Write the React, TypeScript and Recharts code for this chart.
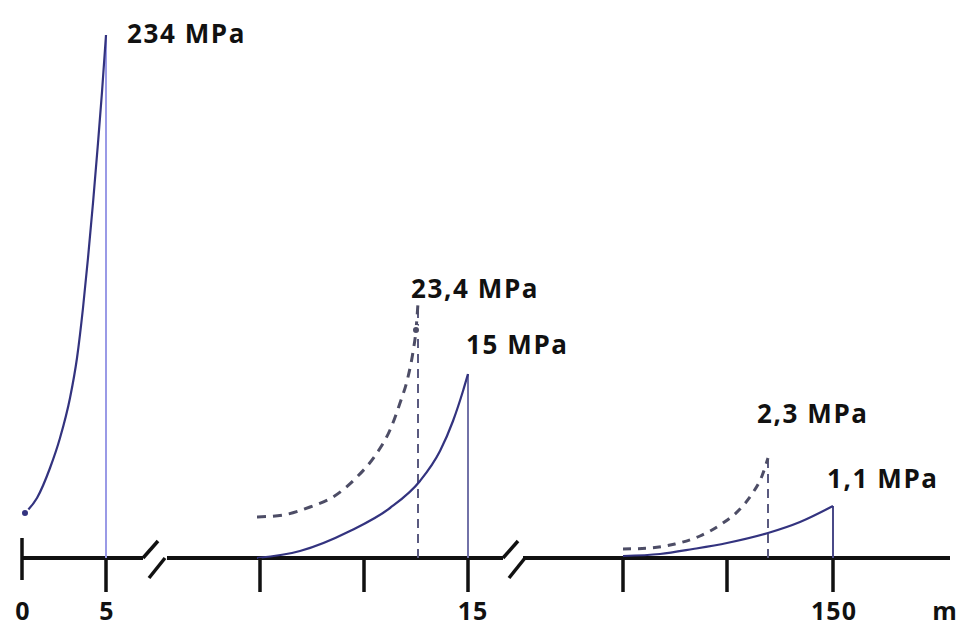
import React from 'react'
import {
  ComposedChart,
  Line,
  XAxis,
  YAxis,
  ReferenceLine,
  ReferenceDot,
} from 'recharts'

// ── Data (x = position along the broken axis, h = drawn height above axis) ──

const TICK_POS = [22, 106, 260, 364, 468, 623, 727, 833, 944]
const TICK_LABELS = ['0', '5', '', '', '15', '', '', '150', 'm']
const TICK_KINDS = ['cross', 'down', 'down', 'down', 'down', 'down', 'down', 'down', 'none']

const AXIS_RUNS = [
  [22, 143],
  [167, 503],
  [523, 950],
]
const AXIS_BREAKS = [143, 503]

const SEG1_SOLID = [
  { x: 25, h: 45 },
  { x: 37, h: 60 },
  { x: 50, h: 90 },
  { x: 60, h: 120 },
  { x: 70, h: 160 },
  { x: 77, h: 200 },
  { x: 83, h: 250 },
  { x: 88, h: 300 },
  { x: 93, h: 355 },
  { x: 98, h: 415 },
  { x: 102, h: 466 },
  { x: 106, h: 523 },
]

const SEG2_SOLID = [
  { x: 257, h: 0 },
  { x: 300, h: 7 },
  { x: 350, h: 27 },
  { x: 390, h: 50 },
  { x: 420, h: 77 },
  { x: 440, h: 107 },
  { x: 453, h: 137 },
  { x: 463, h: 167 },
  { x: 468, h: 184 },
]

const SEG2_DASHED = [
  { x: 257, h: 41 },
  { x: 283, h: 43 },
  { x: 310, h: 51 },
  { x: 333, h: 61 },
  { x: 357, h: 81 },
  { x: 377, h: 105 },
  { x: 390, h: 128 },
  { x: 400, h: 155 },
  { x: 408, h: 181 },
  { x: 413, h: 206 },
  { x: 416, h: 228 },
  { x: 418, h: 255 },
]

const SEG3_SOLID = [
  { x: 623, h: 2 },
  { x: 660, h: 4 },
  { x: 693, h: 9 },
  { x: 727, h: 15 },
  { x: 768, h: 25 },
  { x: 800, h: 36 },
  { x: 833, h: 52 },
]

const SEG3_DASHED = [
  { x: 623, h: 9 },
  { x: 650, h: 10 },
  { x: 675, h: 14 },
  { x: 700, h: 22 },
  { x: 720, h: 33 },
  { x: 740, h: 49 },
  { x: 752, h: 64 },
  { x: 762, h: 82 },
  { x: 768, h: 100 },
]

const PEAKS = [
  { x: 106, h: 523, label: '234 MPa', dashed: false, color: '#9a9ae6' },
  { x: 418, h: 255, label: '23,4 MPa', dashed: true, color: '#5a5a80' },
  { x: 468, h: 184, label: '15 MPa', dashed: false, color: '#7272a8' },
  { x: 768, h: 100, label: '2,3 MPa', dashed: true, color: '#5a5a80' },
  { x: 833, h: 52, label: '1,1 MPa', dashed: false, color: '#4a4a88' },
]

// label offsets from each peak (left edge, baseline)
const LABEL_OFFSETS = [
  [21, 8],
  [-7, -5],
  [-2, -20],
  [-11, -35],
  [-6, -18],
]

// ── Palette ─────────────────────────────────────────────────────────────────

const CURVE = '#33337f'
const DASH = '#4d4d66'
const FONT = '"Open Sans", sans-serif'

function AxisTick(props: any) {
  const { x, y, payload } = props
  const i = TICK_POS.indexOf(payload.value)
  const kind = TICK_KINDS[i]
  const label = TICK_LABELS[i]
  return (
    <g>
      {kind === 'cross' && <line x1={x} x2={x} y1={y - 20} y2={y + 22} stroke="#111" strokeWidth={3.5} />}
      {kind === 'down' && <line x1={x} x2={x} y1={y} y2={y + 34} stroke="#111" strokeWidth={3.5} />}
      {label && (
        <text
          x={x + (label === '15' ? 5 : 1)}
          y={y + 62}
          textAnchor="middle"
          fontFamily={FONT}
          fontWeight={700}
          fontSize={25}
          letterSpacing={1}
          fill="#111"
        >
          {label}
        </text>
      )}
    </g>
  )
}

export default function App() {
  return (
    <div style={{ position: 'fixed', left: 0, top: 0, background: '#fff' }}>
      <ComposedChart width={963} height={630} margin={{ top: 0, right: 0, bottom: 0, left: 0 }}>
        <XAxis
          type="number"
          dataKey="x"
          domain={[0, 963]}
          ticks={TICK_POS}
          interval={0}
          height={72}
          tickSize={0}
          tickMargin={0}
          axisLine={false}
          tickLine={false}
          tick={<AxisTick />}
          allowDataOverflow
        />
        <YAxis type="number" dataKey="h" domain={[0, 558]} hide width={0} />

        {AXIS_RUNS.map(([a, b], i) => (
          <ReferenceLine
            key={`run${i}`}
            segment={[{ x: a, y: 0 }, { x: b, y: 0 }]}
            stroke="#111"
            strokeWidth={4}
            ifOverflow="visible"
          />
        ))}
        {AXIS_BREAKS.map((b, i) => (
          <React.Fragment key={`br${i}`}>
            <ReferenceLine
              segment={[{ x: b, y: 0 }, { x: b + 15, y: 17 }]}
              stroke="#111"
              strokeWidth={3.5}
              ifOverflow="visible"
            />
            <ReferenceLine
              segment={[{ x: b + 6, y: -20 }, { x: b + 22, y: 0 }]}
              stroke="#111"
              strokeWidth={3.5}
              ifOverflow="visible"
            />
          </React.Fragment>
        ))}

        {PEAKS.map((p, i) => (
          <Line
            key={`v${i}`}
            data={[{ x: p.x, h: 0 }, { x: p.x, h: p.h }]}
            dataKey="h"
            stroke={p.color}
            strokeWidth={2}
            strokeDasharray={p.dashed ? '9 6' : undefined}
            dot={false}
            isAnimationActive={false}
          />
        ))}

        <Line data={SEG1_SOLID} dataKey="h" type="monotone" stroke={CURVE} strokeWidth={2.2} dot={false} isAnimationActive={false} />
        <Line data={SEG2_SOLID} dataKey="h" type="monotone" stroke={CURVE} strokeWidth={2.2} dot={false} isAnimationActive={false} />
        <Line data={SEG2_DASHED} dataKey="h" type="monotone" stroke={DASH} strokeWidth={3} strokeDasharray="9 7" dot={false} isAnimationActive={false} />
        <Line data={SEG3_SOLID} dataKey="h" type="monotone" stroke={CURVE} strokeWidth={2.2} dot={false} isAnimationActive={false} />
        <Line data={SEG3_DASHED} dataKey="h" type="monotone" stroke={DASH} strokeWidth={3} strokeDasharray="8 7" dot={false} isAnimationActive={false} />

        {PEAKS.map((p, i) => (
          <ReferenceDot
            key={`l${i}`}
            x={p.x}
            y={p.h}
            r={0}
            ifOverflow="visible"
            label={({ viewBox }: any) => (
              <text
                x={viewBox.x + LABEL_OFFSETS[i][0]}
                y={viewBox.y + LABEL_OFFSETS[i][1]}
                fontFamily={FONT}
                fontWeight={700}
                fontSize={26}
                letterSpacing={1.6}
                fill="#111"
              >
                {p.label}
              </text>
            )}
          />
        ))}
      </ComposedChart>
    </div>
  )
}
